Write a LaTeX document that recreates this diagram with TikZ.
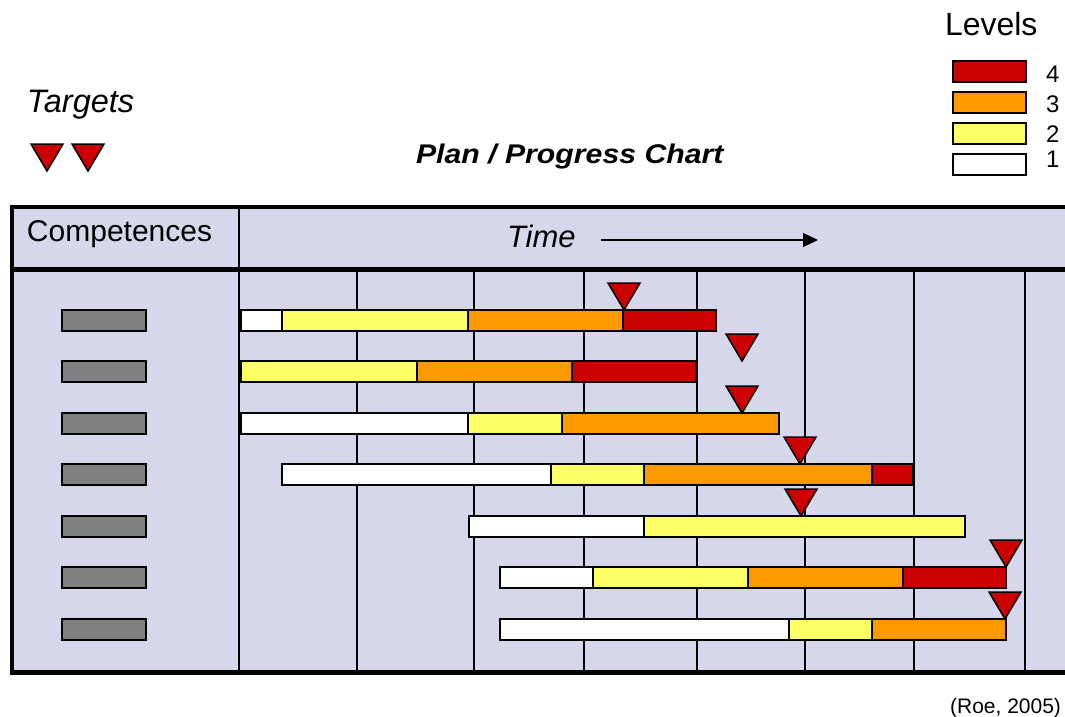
\documentclass[tikz,border=0pt]{standalone}
\usepackage{fontspec}
\setmainfont{Liberation Sans}
\usetikzlibrary{arrows.meta}
\definecolor{lav}{RGB}{215,215,235}
\definecolor{lvred}{RGB}{204,0,0}
\definecolor{lvorange}{RGB}{255,153,0}
\definecolor{lvyellow}{RGB}{255,255,102}
\definecolor{compgray}{RGB}{128,128,128}
\newcommand{\seg}[4]{\draw[#1] (#2,#4) rectangle (#3,#4+21);}
\begin{document}
\begin{tikzpicture}[x=1pt,y=-1pt,
  lab/.style={inner sep=0pt,outer sep=0pt,font=\fontsize{30}{36}\selectfont},
  lvl1/.style={fill=white,draw=black,line width=1.5pt},
  lvl2/.style={fill=lvyellow,draw=black,line width=1.5pt},
  lvl3/.style={fill=lvorange,draw=black,line width=1.5pt},
  lvl4/.style={fill=lvred,draw=black,line width=1.5pt},
  compbox/.style={fill=compgray,draw=black,line width=1.5pt},
  gridline/.style={draw=black,line width=1.6pt},
  timearrow/.style={draw=black,line width=1.4pt,-{Triangle[length=15pt,width=14pt]}},
  target/.pic={\filldraw[fill=lvred,draw=black,line width=1.5pt,line join=miter] (-16,-27) -- (16,-27) -- (0,0) -- cycle;}
]
\useasboundingbox (0,0) rectangle (1065,717);

% titles and legend
\node[lab,anchor=base west,font=\fontsize{32.5}{38}\selectfont\itshape] (targets) at (27,112) {Targets};
\pic at (47,171) {target};
\pic at (88,171) {target};
\node[lab,anchor=base west] (plan) at (416,163) {\scalebox{1.12}[1]{\fontsize{27}{32}\selectfont\bfseries\itshape Plan / Progress Chart}};
\node[lab,anchor=base west,font=\fontsize{32}{38}\selectfont] (levels) at (945,36) {Levels};
\draw[lvl4] (953,61) rectangle (1026,82);
\draw[lvl3] (953,92) rectangle (1026,113);
\draw[lvl2] (953,123) rectangle (1026,144);
\draw[lvl1] (953,154) rectangle (1026,175);
\node[lab,anchor=base west,font=\fontsize{24}{28}\selectfont] (n4) at (1046,82) {4};
\node[lab,anchor=base west,font=\fontsize{24}{28}\selectfont] (n3) at (1046,112) {3};
\node[lab,anchor=base west,font=\fontsize{24}{28}\selectfont] (n2) at (1046,142) {2};
\node[lab,anchor=base west,font=\fontsize{24}{28}\selectfont] (n1) at (1046,167) {1};

% chart frame
\fill[lav] (12,207) rectangle (1065,672);
\foreach \gx in {357,474,584,697,805,914,1025}{\draw[gridline] (\gx,270) -- (\gx,672);}
\draw[line width=2pt] (239,207) -- (239,672);
\draw[line width=4pt] (10,207) -- (1065,207);
\draw[line width=5pt] (10,269) -- (1065,269);
\draw[line width=5pt] (10,672.5) -- (1065,672.5);
\draw[line width=4.5pt] (12,205) -- (12,675);

\node[lab,anchor=base west] (comp) at (27,241) {Competences};
\node[lab,anchor=base west,font=\fontsize{31}{36}\selectfont\itshape] (time) at (507,247) {Time};
\coordinate (tA) at (601,240);
\coordinate (tB) at (818,240);
\draw[timearrow] (tA) -- (tB);

% competence boxes
\foreach \ry in {310,361,413,464,516,567,619}{\draw[compbox] (62,\ry) rectangle (146,\ry+21);}

% bars
\seg{lvl1}{241}{282}{310}\seg{lvl2}{282}{468}{310}\seg{lvl3}{468}{623}{310}\seg{lvl4}{623}{716}{310}
\seg{lvl2}{241}{417}{361}\seg{lvl3}{417}{572}{361}\seg{lvl4}{572}{696}{361}
\seg{lvl1}{241}{468}{413}\seg{lvl2}{468}{562}{413}\seg{lvl3}{562}{779}{413}
\seg{lvl1}{282}{551}{464}\seg{lvl2}{551}{644}{464}\seg{lvl3}{644}{872}{464}\seg{lvl4}{872}{913}{464}
\seg{lvl1}{469}{644}{516}\seg{lvl2}{644}{965}{516}
\seg{lvl1}{500}{593}{567}\seg{lvl2}{593}{748}{567}\seg{lvl3}{748}{903}{567}\seg{lvl4}{903}{1006}{567}
\seg{lvl1}{500}{789}{619}\seg{lvl2}{789}{872}{619}\seg{lvl3}{872}{1006}{619}

% targets
\pic at (624,310) {target};
\pic at (742,361) {target};
\pic at (742,413) {target};
\pic at (800,464) {target};
\pic at (801,516) {target};
\pic at (1006,567) {target};
\pic at (1005,619) {target};

\node[lab,anchor=base east,font=\fontsize{21}{25}\selectfont] (roe) at (1061,713) {(Roe, 2005)};
\end{tikzpicture}
\end{document}
